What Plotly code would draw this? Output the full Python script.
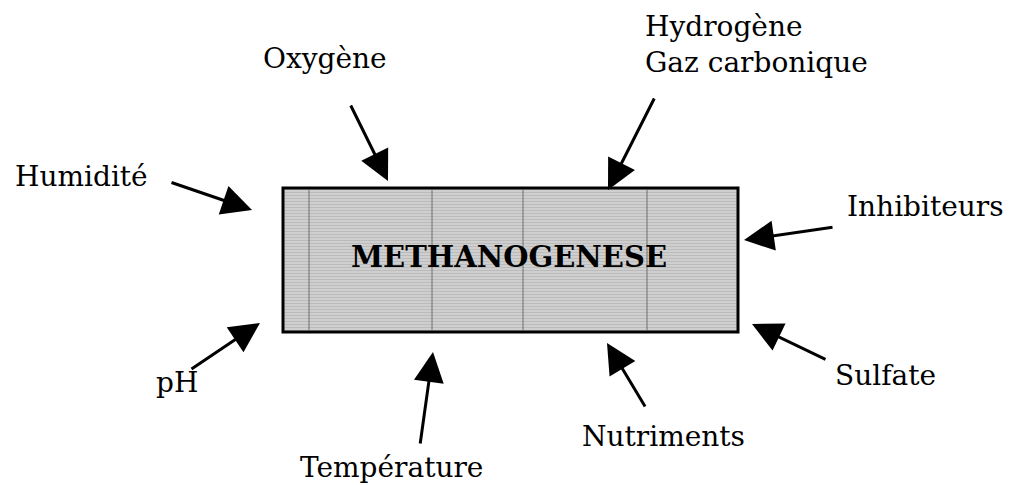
import plotly.graph_objects as go

# factor labels and where they sit (pixel coords of the 1011x485 canvas)
labels = ["Oxygène", "Hydrogène<br>Gaz carbonique", "Humidité", "Inhibiteurs",
          "pH", "Sulfate", "Nutriments", "Température"]
label_x = [325, 643, 81, 1006, 177, 885, 663, 391]
label_y = [58, 44, 176, 206, 382, 375, 436, 467]
label_anchor = ["center", "left", "center", "right", "center", "center", "center", "center"]

# arrows: tail -> head
tail_x = [350, 655, 170, 834, 190, 827, 646, 420]
tail_y = [104, 97, 182, 227, 370, 360, 408, 445]
head_x = [388, 608, 252, 744, 260, 752, 607, 433]
head_y = [181, 190, 210, 240, 323, 324, 343, 352]

title = "METHANOGENESE"
box_x = [283, 738]
box_y = [188, 332]
grid_x = [309, 432, 523, 647]

FONT = "DejaVu Serif"
PAD = 8  # page body margin, so figure px + PAD = window px

fig = go.Figure()

fig.add_trace(go.Scatter(
    x=[box_x[0], box_x[1], box_x[1], box_x[0], box_x[0]],
    y=[box_y[0], box_y[0], box_y[1], box_y[1], box_y[0]],
    mode="lines", fill="toself",
    fillcolor="#c9c9c9",
    fillpattern=dict(shape="-", bgcolor="#cfcfcf", fgcolor="#a8a8a8", size=3, solidity=0.35),
    line=dict(width=0),
    hoverinfo="skip", showlegend=False,
))

for gx in grid_x:
    fig.add_trace(go.Scatter(
        x=[gx, gx], y=[box_y[0] + 2, box_y[1] - 2], mode="lines",
        line=dict(color="#6e6e6e", width=1), hoverinfo="skip", showlegend=False,
    ))

fig.add_shape(type="rect", x0=box_x[0], x1=box_x[1], y0=box_y[0], y1=box_y[1],
              line=dict(color="black", width=3), layer="above")

annotations = [dict(
    x=(box_x[0] + box_x[1]) / 2 - 2, y=(box_y[0] + box_y[1]) / 2 - 3, text="<b>" + title + "</b>",
    showarrow=False, font=dict(family=FONT, size=29, color="black"),
)]

for hx, hy, tx, ty in zip(head_x, head_y, tail_x, tail_y):
    annotations.append(dict(
        x=hx, y=hy, ax=tx, ay=ty, xref="x", yref="y", axref="x", ayref="y",
        text="", showarrow=True, arrowhead=2, arrowsize=2.0, arrowwidth=3,
        arrowcolor="black", standoff=0,
    ))

for lab, lx, ly, anc in zip(labels, label_x, label_y, label_anchor):
    annotations.append(dict(
        x=lx, y=ly, text=lab, showarrow=False, xanchor=anc, align="left",
        font=dict(family=FONT, size=28, color="black"),
    ))

fig.update_layout(
    width=1011 - PAD, height=485 - PAD,
    margin=dict(l=0, r=0, t=0, b=0),
    paper_bgcolor="white", plot_bgcolor="white",
    xaxis=dict(range=[PAD, 1011], visible=False, fixedrange=True),
    yaxis=dict(range=[485, PAD], visible=False, fixedrange=True),
    annotations=annotations,
)

fig.write_html("out.html")
